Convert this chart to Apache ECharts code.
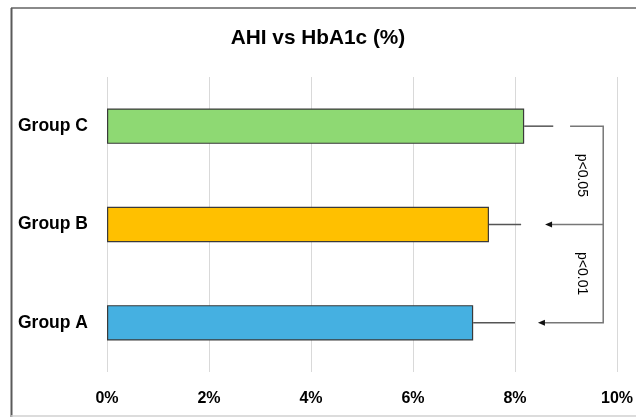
<!DOCTYPE html>
<html><head><meta charset="utf-8">
<script src="https://cdn.jsdelivr.net/npm/echarts@6/dist/echarts.min.js"></script>
<style>html,body{margin:0;padding:0;background:#fff}#c{width:636px;height:417px}</style>
</head><body><div id="c"></div>
<script>
var categories = ['Group A', 'Group B', 'Group C'];
var values = [7.18, 7.49, 8.18];
var errorsUpper = [0.82, 0.63, 0.57];
var barColors = ['#45b0e1', '#ffc000', '#8ed973'];
var xTicks = [0, 2, 4, 6, 8, 10];
// bracket annotation (data units): top start, vertical x, arrow tips for B and A
var bracketTopStart = 9.08;
var bracketX = 9.73;
var arrowTips = [8.45, 8.59];
var pLabels = ['p<0.05', 'p<0.01'];
var pLabelX = 9.31;

var chart = echarts.init(document.getElementById('c'), null, {renderer: 'canvas'});
var font = 'Arial, "Liberation Sans", sans-serif';

var option = {
  animation: false,
  title: {
    text: 'AHI vs HbA1c (%)', left: 'center', top: 23,
    textStyle: {fontFamily: font, fontSize: 20.8, fontWeight: 'bold', color: '#000'}
  },
  grid: {left: 107, right: 19, top: 77, bottom: 45},
  xAxis: {
    type: 'value', min: 0, max: 10, interval: 2,
    axisLine: {show: false}, axisTick: {show: false},
    splitLine: {show: true, lineStyle: {color: '#d9d9d9', width: 1}},
    axisLabel: {formatter: function (v) { return v + '%'; }, margin: 19,
      fontFamily: font, fontSize: 16, fontWeight: 'bold', color: '#000'}
  },
  yAxis: {
    type: 'category', data: categories,
    axisLine: {show: false}, axisTick: {show: false},
    axisLabel: {margin: 19, fontFamily: font, fontSize: 17.5, fontWeight: 'bold', color: '#000'}
  },
  graphic: [
    {type: 'line', shape: {x1: 11, y1: 8, x2: 636, y2: 8}, style: {stroke: '#8a8a8a', lineWidth: 2}, silent: true},
    {type: 'line', shape: {x1: 11.5, y1: 8, x2: 11.5, y2: 417}, style: {stroke: '#5a5a5a', lineWidth: 2}, silent: true},
    {type: 'line', shape: {x1: 11, y1: 416, x2: 636, y2: 416}, style: {stroke: '#d0d0d0', lineWidth: 1.5}, silent: true}
  ],
  series: [
    {
      type: 'bar', barWidth: '36%',
      data: values.map(function (v, i) {
        return {value: v, itemStyle: {color: barColors[i], borderColor: '#3a3a3a', borderWidth: 1.2}};
      }),
      z: 2
    },
    {
      type: 'custom', z: 3,
      data: values.map(function (v, i) { return [v, v + errorsUpper[i], i]; }),
      renderItem: function (params, api) {
        var p1 = api.coord([api.value(0), api.value(2)]);
        var p2 = api.coord([api.value(1), api.value(2)]);
        return {type: 'line', shape: {x1: p1[0], y1: p1[1], x2: p2[0], y2: p2[1]},
          style: {stroke: '#555', lineWidth: 1.5}};
      }
    },
    {
      type: 'custom', z: 3,
      data: [[0]],
      renderItem: function (params, api) {
        var yC = api.coord([0, 2])[1], yB = api.coord([0, 1])[1], yA = api.coord([0, 0])[1];
        var xs = api.coord([bracketTopStart, 2])[0];
        var xv = api.coord([bracketX, 2])[0];
        var xb = api.coord([arrowTips[1], 1])[0];
        var xa = api.coord([arrowTips[0], 0])[0];
        var xl = api.coord([pLabelX, 0])[0];
        var st = {stroke: '#777', lineWidth: 1.5, fill: null};
        function arrow(x, y) {
          return {type: 'polygon', shape: {points: [[x, y], [x + 7, y - 3], [x + 7, y + 3]]}, style: {fill: '#111'}};
        }
        return {type: 'group', children: [
          {type: 'polyline', shape: {points: [[xs, yC], [xv, yC], [xv, yA], [xa + 4, yA]]}, style: st},
          {type: 'line', shape: {x1: xv, y1: yB, x2: xb + 4, y2: yB}, style: st},
          arrow(xa, yA), arrow(xb, yB),
          {type: 'text', x: xl, y: (yC + yB) / 2, rotation: -Math.PI / 2,
            style: {text: pLabels[0], fontFamily: font, fontSize: 14, fill: '#000', align: 'center', verticalAlign: 'middle'}},
          {type: 'text', x: xl, y: (yB + yA) / 2, rotation: -Math.PI / 2,
            style: {text: pLabels[1], fontFamily: font, fontSize: 14, fill: '#000', align: 'center', verticalAlign: 'middle'}}
        ]};
      }
    }
  ]
};
chart.setOption(option);
</script>
</body></html>
